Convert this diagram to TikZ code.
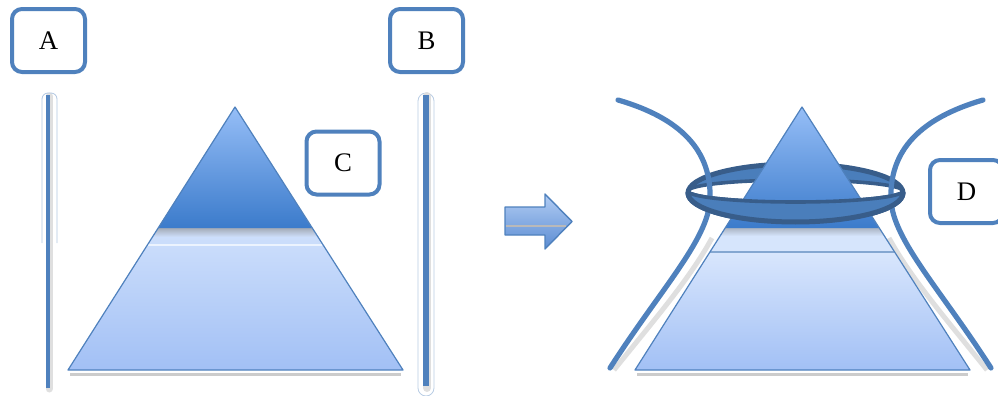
\documentclass[tikz,border=0pt]{standalone}
\usepackage{fontspec}
\setmainfont{Liberation Serif}
\usetikzlibrary{positioning,calc}
\definecolor{ofblue}{HTML}{4F81BD}
\definecolor{ofdark}{HTML}{385D8A}
\definecolor{ringblue}{HTML}{4A7EBB}
\definecolor{toplight}{HTML}{96BEF7}
\definecolor{topdark}{HTML}{3B7BCB}
\definecolor{lowlight}{HTML}{CFE0FC}
\definecolor{lowdark}{HTML}{A2C0F5}
\definecolor{arrtop}{HTML}{B2CDF4}
\definecolor{arrbot}{HTML}{5B8CD2}

\begin{document}
\begin{tikzpicture}[x=0.5pt, y=-0.5pt,
  tag/.style={draw=ofblue, line width=2pt, rounded corners=5pt, fill=white,
              minimum width=36.5pt, minimum height=31.5pt, inner sep=0pt,
              font=\fontsize{13.4}{16}\selectfont},
  bar/.style={ofblue, line width=2.2pt},
  rope/.style={ofblue, line width=2.6pt, line cap=round},
  edge/.style={ofblue, line width=0.6pt, line join=round}
]
  \clip (0,0) rectangle (998,396);
  \useasboundingbox (0,0) rectangle (998,396);

  % Bars
  \draw[gray!25, line width=3.5pt, line cap=round] (49,96) -- (49,389);
  \draw[ofblue!45, line width=0.4pt, rounded corners=3pt] (42,243) -- (42,93) -- (57,93) -- (57,243);
  \draw[bar] (48,95) -- (48,388);
  \draw[ofblue!40, line width=0.4pt, rounded corners=4pt] (418,93) rectangle (434,396);
  \draw[gray!25, line width=4pt, line cap=round] (427,96) -- (427,388);
  \draw[bar, line width=2.6pt] (426,95) -- (426,386);

  % Left pyramid
  \shade[top color=lowlight, bottom color=lowdark] (158,228) -- (312,228) -- (403,370) -- (68,370) -- cycle;
  \shade[top color=gray!55!lowlight, bottom color=lowlight] (158,228) -- (312,228) -- (317,237) -- (153,237) -- cycle;
  \shade[top color=toplight, bottom color=topdark] (235,107) -- (158,228) -- (312,228) -- cycle;
  \draw[white!60!lowlight, line width=0.8pt] (148,245) -- (322,245);
  \draw[gray!40, line width=1.5pt] (70,374) -- (401,374);
  \draw[edge] (235,107) -- (68,370) -- (403,370) -- cycle;

  % Arrow
  \draw[ofblue, line width=0.7pt, line join=round, top color=arrtop, bottom color=arrbot]
    (505,207) -- (545,207) -- (545,194) -- (572,221.5) -- (545,249) -- (545,235) -- (505,235) -- cycle;
  \draw[gray!55, line width=1.2pt] (506,226) -- (566,226);

  % Ring, back half
  \fill[ringblue, even odd rule] (795.5,193) ellipse [x radius=107.5, y radius=29]
                                 (795.5,191) ellipse [x radius=107.5, y radius=11];
  \draw[ofdark, line width=2.5pt] (795.5,193) ellipse [x radius=107.5, y radius=29];
  \draw[ofdark, line width=1.8pt] (795.5,191) ellipse [x radius=107.5, y radius=11];

  % Ropes
  \draw[gray!25, line width=2.5pt] (712,238) .. controls (689,280) and (654,320) .. (614,370);
  \draw[gray!25, line width=2.5pt] (889,238) .. controls (912,280) and (947,320) .. (987,370);
  \draw[rope] (618,100) .. controls (680,118) and (712,150) .. (710,200)
              .. controls (708,240) and (660,290) .. (610,368);
  \draw[rope] (983,100) .. controls (921,118) and (889,150) .. (891,200)
              .. controls (893,240) and (941,290) .. (991,368);

  % Right pyramid
  \begin{scope}[shift={(567,0)}]
    \shade[top color=lowlight!80!white, bottom color=lowdark] (143,252) -- (327,252) -- (403,370) -- (68,370) -- cycle;
    \fill[lowlight!85!white] (158,228) -- (312,228) -- (327,252) -- (143,252) -- cycle;
    \shade[top color=gray!45!lowlight, bottom color=lowlight!85!white] (158,228) -- (312,228) -- (317,236) -- (153,236) -- cycle;
    \draw[ofblue!70, line width=0.6pt] (143,252) -- (327,252);
    \shade[top color=toplight, bottom color=topdark] (235,107) -- (158,228) -- (312,228) -- cycle;
    \draw[gray!40, line width=1.5pt] (70,374) -- (401,374);
    \draw[edge] (235,107) -- (68,370) -- (403,370) -- cycle;
  \end{scope}

  % Ring, front half
  \begin{scope}
    \clip (680,192) rectangle (920,240);
    \fill[ringblue, even odd rule] (795.5,193) ellipse [x radius=107.5, y radius=29]
                                   (795.5,191) ellipse [x radius=107.5, y radius=11];
    \draw[ofdark, line width=2.5pt] (795.5,193) ellipse [x radius=107.5, y radius=29];
    \draw[ofdark, line width=1.8pt] (795.5,191) ellipse [x radius=107.5, y radius=11];
  \end{scope}

  % Labels
  \node[tag] (A) at (48.5,40.5) {A};
  \node[tag] (B) at (426.5,40.5) {B};
  \node[tag] (C) at (343,163) {C};
  \node[tag] (D) at (966.5,191.5) {D};
\end{tikzpicture}
\end{document}
